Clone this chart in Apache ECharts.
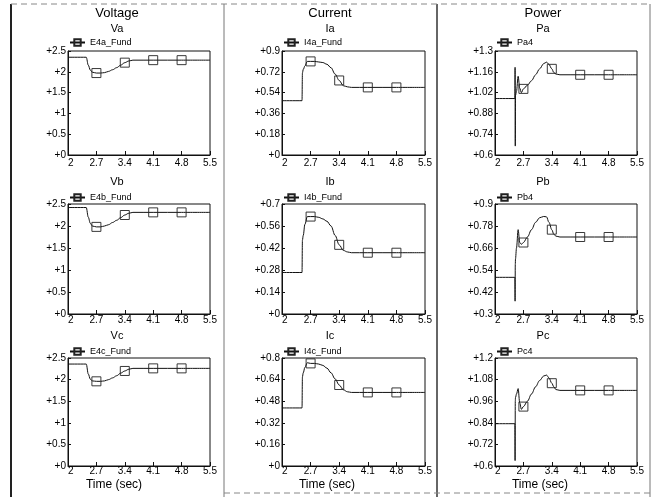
<!DOCTYPE html>
<html>
<head>
<meta charset="utf-8">
<script src="https://cdn.jsdelivr.net/npm/echarts@6/dist/echarts.min.js"></script>
<style>
html,body{margin:0;padding:0;background:#fff;}
#c{width:656px;height:497px;}
</style>
</head>
<body>
<div id="c"></div>
<script>
// ---- data ----
const xTicks = [2, 2.7, 3.4, 4.1, 4.8, 5.5];
const markerTimes = [2.7, 3.4, 4.1, 4.8];

const columnTitles = ['Voltage', 'Current', 'Power'];
const panelTitles = ['Va', 'Ia', 'Pa', 'Vb', 'Ib', 'Pb', 'Vc', 'Ic', 'Pc'];
const seriesNames = ['E4a_Fund', 'I4a_Fund', 'Pa4', 'E4b_Fund', 'I4b_Fund', 'Pb4', 'E4c_Fund', 'I4c_Fund', 'Pc4'];
const xTitle = 'Time (sec)';

const tV = [2.0, 2.45, 2.5, 2.55, 2.6, 2.7, 2.8, 2.9, 3.0, 3.1, 3.2, 3.3, 3.4, 3.5, 3.6, 4.1, 4.8, 5.5];
const Va = [2.35, 2.35, 2.16, 2.04, 1.99, 1.97, 1.97, 1.98, 2.01, 2.05, 2.10, 2.16, 2.22, 2.26, 2.28, 2.28, 2.28, 2.28];
const Vb = [2.42, 2.42, 2.20, 2.06, 2.00, 1.98, 1.98, 2.00, 2.03, 2.08, 2.13, 2.19, 2.25, 2.29, 2.31, 2.31, 2.31, 2.31];
const Vc = [2.36, 2.36, 2.13, 2.01, 1.97, 1.96, 1.96, 1.97, 2.00, 2.04, 2.09, 2.15, 2.20, 2.24, 2.26, 2.26, 2.26, 2.26];

const tI = [2.0, 2.49, 2.5, 2.52, 2.56, 2.62, 2.7, 2.8, 2.9, 3.0, 3.1, 3.2, 3.3, 3.4, 3.5, 3.6, 3.7, 4.1, 4.8, 5.5];
const Ia = [0.47, 0.47, 0.71, 0.74, 0.77, 0.81, 0.81, 0.81, 0.805, 0.80, 0.785, 0.755, 0.70, 0.645, 0.60, 0.59, 0.585, 0.585, 0.585, 0.585];
const Ib = [0.264, 0.264, 0.47, 0.50, 0.57, 0.62, 0.62, 0.62, 0.615, 0.605, 0.59, 0.56, 0.50, 0.44, 0.405, 0.395, 0.39, 0.39, 0.39, 0.39];
const Ic = [0.43, 0.43, 0.66, 0.69, 0.73, 0.765, 0.76, 0.76, 0.755, 0.745, 0.725, 0.69, 0.645, 0.60, 0.565, 0.55, 0.545, 0.545, 0.545, 0.545];

const tP = [2.0, 2.49, 2.495, 2.5, 2.505, 2.53, 2.57, 2.61, 2.65, 2.7, 2.8, 2.9, 3.0, 3.1, 3.2, 3.27, 3.33, 3.4, 3.45, 3.5, 3.6, 4.1, 4.8, 5.5];
const Pa = [0.98, 0.98, 1.19, 0.66, 1.00, 1.03, 1.13, 1.05, 1.02, 1.045, 1.07, 1.10, 1.14, 1.18, 1.215, 1.225, 1.21, 1.18, 1.155, 1.145, 1.14, 1.14, 1.14, 1.14];
const Pb = [0.50, 0.50, 0.37, 0.57, 0.60, 0.66, 0.76, 0.69, 0.68, 0.69, 0.72, 0.76, 0.80, 0.825, 0.832, 0.83, 0.80, 0.76, 0.735, 0.725, 0.72, 0.72, 0.72, 0.72];
const Pc = [0.835, 0.835, 0.63, 0.96, 0.98, 1.00, 1.03, 0.95, 0.915, 0.93, 0.96, 1.00, 1.04, 1.075, 1.10, 1.105, 1.09, 1.06, 1.04, 1.025, 1.02, 1.02, 1.02, 1.02];

const yTicksV = [0, 0.5, 1, 1.5, 2, 2.5];
const yTicksIa = [0, 0.18, 0.36, 0.54, 0.72, 0.9];
const yTicksIb = [0, 0.14, 0.28, 0.42, 0.56, 0.7];
const yTicksIc = [0, 0.16, 0.32, 0.48, 0.64, 0.8];
const yTicksPa = [0.6, 0.74, 0.88, 1.02, 1.16, 1.3];
const yTicksPb = [0.3, 0.42, 0.54, 0.66, 0.78, 0.9];
const yTicksPc = [0.6, 0.72, 0.84, 0.96, 1.08, 1.2];

// ---- layout ----
const colLeft = [68, 282, 495];
const colWidth = [142, 143, 142];
const colCenter = [117, 330, 543];
const rowTop = [51, 204, 358];
const rowBottom = [155, 314, 466];
const rowTitleY = [29, 182, 336];
const legendTop = [38, 193, 347];
const legendLeft = [69, 283, 496];
const xLabelMargin = [3, 1, 0];

const panelT = [tV, tI, tP, tV, tI, tP, tV, tI, tP];
const panelV = [Va, Ia, Pa, Vb, Ib, Pb, Vc, Ic, Pc];
const panelTicks = [yTicksV, yTicksIa, yTicksPa, yTicksV, yTicksIb, yTicksPb, yTicksV, yTicksIc, yTicksPc];

const FONT = '"Liberation Sans", Arial, sans-serif';

function buildData(t, v) {
  return t.map((x, i) => markerTimes.includes(x)
    ? { value: [x, v[i]] }
    : { value: [x, v[i]], symbol: 'none' });
}

const grids = [], xAxes = [], yAxes = [], series = [], legends = [], graphics = [];

for (let k = 0; k < 9; k++) {
  const r = Math.floor(k / 3), c = k % 3;
  const ticks = panelTicks[k];
  grids.push({
    left: colLeft[c], top: rowTop[r], width: colWidth[c], height: rowBottom[r] - rowTop[r],
    show: true, borderColor: '#111', borderWidth: 1, backgroundColor: 'transparent'
  });
  xAxes.push({
    type: 'value', gridIndex: k, min: xTicks[0], max: xTicks[xTicks.length - 1],
    axisLine: { lineStyle: { color: '#111', width: 1 } },
    axisTick: { inside: true, length: 4, customValues: xTicks, lineStyle: { color: '#111' } },
    axisLabel: { customValues: xTicks, color: '#000', fontSize: 10, fontFamily: FONT, margin: xLabelMargin[r],
      alignMinLabel: 'left', formatter: v => String(v) },
    splitLine: { show: false }
  });
  yAxes.push({
    type: 'value', gridIndex: k, min: ticks[0], max: ticks[ticks.length - 1],
    axisLine: { show: true, lineStyle: { color: '#111', width: 1 } },
    axisTick: { show: true, inside: true, length: 3, customValues: ticks, lineStyle: { color: '#111' } },
    axisLabel: { customValues: ticks, color: '#000', fontSize: 10, fontFamily: FONT, margin: 2,
      formatter: v => '+' + v },
    splitLine: { show: false }
  });
  series.push({
    name: seriesNames[k], type: 'line', xAxisIndex: k, yAxisIndex: k,
    data: buildData(panelT[k], panelV[k]),
    symbol: 'rect', symbolSize: 9, showSymbol: true,
    smooth: 0.35, smoothMonotone: 'x',
    lineStyle: { color: '#111', width: 1 },
    itemStyle: { color: 'rgba(255,255,255,0)', borderColor: '#222', borderWidth: 0.9 },
    animation: false
  });
  legends.push({
    data: [seriesNames[k]], left: legendLeft[c], top: legendTop[r], padding: 0,
    itemWidth: 15, itemHeight: 8, selectedMode: false,
    textStyle: { color: '#000', fontSize: 9, fontFamily: FONT }
  });
  graphics.push({
    type: 'text', x: colCenter[c], y: rowTitleY[r],
    style: { text: panelTitles[k], fill: '#000', font: '11px ' + FONT, textAlign: 'center', textVerticalAlign: 'middle' }
  });
}

for (let c = 0; c < 3; c++) {
  graphics.push({
    type: 'text', x: colCenter[c], y: 13,
    style: { text: columnTitles[c], fill: '#000', font: '13px ' + FONT, textAlign: 'center', textVerticalAlign: 'middle' }
  });
  graphics.push({
    type: 'text', x: colCenter[c] - 3, y: 485,
    style: { text: xTitle, fill: '#000', font: '12px ' + FONT, textAlign: 'center', textVerticalAlign: 'middle' }
  });
}

// frame lines
const frame = [
  { s: [11, 4, 11, 497], w: 2, col: '#222', d: null },
  { s: [224, 4, 224, 497], w: 1, col: '#777', d: null },
  { s: [437, 4, 437, 497], w: 1.5, col: '#333', d: null },
  { s: [650, 4, 650, 497], w: 1, col: '#777', d: null },
  { s: [11, 4, 650, 4], w: 1, col: '#888', d: [6, 4] },
  { s: [224, 493, 650, 493], w: 1, col: '#888', d: [6, 4] }
];
frame.forEach(f => graphics.push({
  type: 'line', silent: true,
  shape: { x1: f.s[0], y1: f.s[1], x2: f.s[2], y2: f.s[3] },
  style: { stroke: f.col, lineWidth: f.w, lineDash: f.d }
}));

const chart = echarts.init(document.getElementById('c'), null, { renderer: 'canvas' });
chart.setOption({
  animation: false,
  backgroundColor: '#fff',
  grid: grids, xAxis: xAxes, yAxis: yAxes, series: series, legend: legends,
  graphic: graphics
});
</script>
</body>
</html>
